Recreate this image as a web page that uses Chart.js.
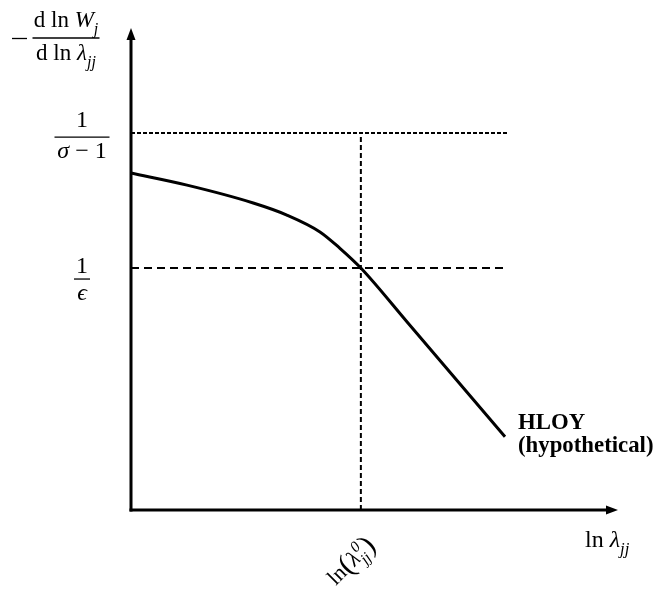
<!DOCTYPE html>
<html><head><meta charset="utf-8">
<script src="https://cdn.jsdelivr.net/npm/chart.js@4"></script>
<style>html,body{margin:0;padding:0;background:#fff;}canvas{display:block;}</style>
</head><body>
<canvas id="c" width="654" height="591"></canvas>
<script>
// ---- data (axis units 0..10 on both axes) ----
const curveX = [0, 1.15, 2.51, 3.20, 3.88, 4.29, 4.72, 5.67, 7.68];
const curveY = [6.99, 6.74, 6.37, 6.12, 5.77, 5.43, 5.02, 3.90, 1.52];
const yTickValues = [7.82, 5.02];          // 1/(σ−1), 1/ε
const xTickValues = [4.72];                // ln(λ⁰jj)
const refLineEndX = [7.74, 7.74];
const yTickLabels = [
  { num: [{t:'1'}], den: [{t:'σ', it:1}, {t:' − 1'}] },
  { num: [{t:'1'}], den: [{t:'ϵ', it:1}] }
];
const xTickLabels = [
  [{t:'ln'}, {t:'(', scale:1.35, dy:0.08}, {t:'λ', it:1}, {stack:['0','jj']}, {t:')', scale:1.35, dy:0.08}]
];
const yTitle = { num: [{t:'d ln '}, {t:'W', it:1}, {t:'j', it:1, sub:1}], den: [{t:'d ln '}, {t:'λ', it:1}, {t:'jj', it:1, sub:1}] };
const xTitle = [{t:'ln '}, {t:'λ', it:1}, {t:'jj', it:1, sub:1}];
const seriesLabel = ['HLOY', '(hypothetical)'];

const FAM = '"Liberation Serif", "DejaVu Serif", serif';
function fontStr(size, it, b) { return (it ? 'italic ' : '') + (b ? 'bold ' : '') + size + 'px ' + FAM; }
function segSize(s, size) { return (s.sub || s.sup) ? size * 0.7 : size * (s.scale || 1); }
function segW(ctx, s, size) {
  if (s.stack) {
    ctx.font = fontStr(size * 0.7, true);
    return Math.max(ctx.measureText(s.stack[0]).width, ctx.measureText(s.stack[1]).width) + size * 0.08;
  }
  ctx.font = fontStr(segSize(s, size), s.it, s.b);
  return ctx.measureText(s.t).width;
}
function richWidth(ctx, segs, size) { return segs.reduce((a, s) => a + segW(ctx, s, size), 0); }
function drawRich(ctx, segs, x, y, size, align) {
  ctx.textAlign = 'left'; ctx.textBaseline = 'alphabetic';
  const total = richWidth(ctx, segs, size);
  let cx = align === 'center' ? x - total / 2 : align === 'right' ? x - total : x;
  for (const s of segs) {
    const w = segW(ctx, s, size);
    if (s.stack) {
      ctx.font = fontStr(size * 0.7, true);
      ctx.fillText(s.stack[0], cx + 1, y - size * 0.42);
      ctx.fillText(s.stack[1], cx, y + size * 0.3);
    } else {
      ctx.font = fontStr(segSize(s, size), s.it, s.b);
      const dy = s.sub ? size * 0.3 : s.sup ? -size * 0.4 : (s.dy || 0) * size;
      ctx.fillText(s.t, cx, y + dy);
    }
    cx += w;
  }
  return total;
}
function drawFrac(ctx, f, cx, barY, size, barW, numOff, denOff) {
  const w = barW || Math.max(richWidth(ctx, f.num, size), richWidth(ctx, f.den, size)) + 4;
  ctx.lineWidth = 1.3; ctx.strokeStyle = '#000';
  ctx.beginPath(); ctx.moveTo(cx - w / 2, barY); ctx.lineTo(cx + w / 2, barY); ctx.stroke();
  drawRich(ctx, f.num, cx, barY - numOff, size, 'center');
  drawRich(ctx, f.den, cx, barY + denOff, size, 'center');
}

const annot = {
  id: 'annot',
  beforeDatasetsDraw(chart) {
    const { ctx, scales: { x, y } } = chart;
    const x0 = x.getPixelForValue(0), y0 = y.getPixelForValue(0);
    const xEnd = x.getPixelForValue(10), yEnd = y.getPixelForValue(10);
    ctx.save();
    ctx.strokeStyle = '#000'; ctx.fillStyle = '#000'; ctx.lineWidth = 3; ctx.lineCap = 'butt';
    ctx.beginPath(); ctx.moveTo(x0, y0 + 1.5); ctx.lineTo(x0, yEnd + 9); ctx.stroke();
    ctx.beginPath(); ctx.moveTo(x0 - 1.5, y0); ctx.lineTo(xEnd - 9, y0); ctx.stroke();
    ctx.beginPath(); ctx.moveTo(x0, yEnd); ctx.lineTo(x0 - 4.5, yEnd + 12); ctx.lineTo(x0 + 4.5, yEnd + 12); ctx.closePath(); ctx.fill();
    ctx.beginPath(); ctx.moveTo(xEnd, y0); ctx.lineTo(xEnd - 12, y0 - 4.5); ctx.lineTo(xEnd - 12, y0 + 4.5); ctx.closePath(); ctx.fill();
    ctx.restore();
  },
  afterDraw(chart) {
    const { ctx, scales: { x, y } } = chart;
    ctx.save();
    ctx.fillStyle = '#000';
    // y title
    drawFrac(ctx, yTitle, 66, 38, 23, 67, 11, 22);
    ctx.lineWidth = 1.3;
    ctx.beginPath(); ctx.moveTo(12, 38.5); ctx.lineTo(27, 38.5); ctx.stroke();
    // y tick labels
    const p0 = y.getPixelForValue(yTickValues[0]);
    drawFrac(ctx, yTickLabels[0], 82, p0 + 4, 24, 55, 10, 21);
    const p1 = y.getPixelForValue(yTickValues[1]);
    drawFrac(ctx, yTickLabels[1], 82, p1 + 11, 24, 16, 6, 21);
    // x tick label rotated
    const px = x.getPixelForValue(xTickValues[0]);
    ctx.save();
    ctx.translate(px - 10, y.getPixelForValue(0) + 51);
    ctx.rotate(-Math.PI / 4);
    drawRich(ctx, xTickLabels[0], 0, 7, 22, 'center');
    ctx.restore();
    // x title
    drawRich(ctx, xTitle, 585, 547, 24, 'left');
    // series label
    ctx.font = fontStr(22.8, false, true);
    ctx.textAlign = 'left'; ctx.textBaseline = 'alphabetic';
    ctx.fillText(seriesLabel[0], 518, 429);
    ctx.fillText(seriesLabel[1], 518, 452);
    ctx.restore();
  }
};

const pts = curveX.map((v, i) => ({ x: v, y: curveY[i] }));
new Chart(document.getElementById('c'), {
  type: 'scatter',
  data: {
    datasets: [
      { data: pts, showLine: true, borderColor: '#000', borderWidth: 3, pointRadius: 0, cubicInterpolationMode: 'monotone', order: 0 },
      { data: [{ x: 0, y: yTickValues[0] }, { x: refLineEndX[0], y: yTickValues[0] }], showLine: true, borderColor: '#000', borderWidth: 2, borderDash: [4, 2], pointRadius: 0, order: 1 },
      { data: [{ x: 0, y: yTickValues[1] }, { x: refLineEndX[1], y: yTickValues[1] }], showLine: true, borderColor: '#000', borderWidth: 2, borderDash: [8, 5], pointRadius: 0, order: 2 },
      { data: [{ x: xTickValues[0], y: 0 }, { x: xTickValues[0], y: yTickValues[0] }], showLine: true, borderColor: '#000', borderWidth: 2, borderDash: [5, 3], pointRadius: 0, order: 3 }
    ]
  },
  options: {
    responsive: false, animation: false, clip: false,
    layout: { padding: { left: 131, right: 36, top: 28, bottom: 81 } },
    plugins: { legend: { display: false }, tooltip: { enabled: false } },
    scales: {
      x: { type: 'linear', min: 0, max: 10, display: false },
      y: { type: 'linear', min: 0, max: 10, display: false }
    }
  },
  plugins: [annot]
});
</script>
</body></html>
